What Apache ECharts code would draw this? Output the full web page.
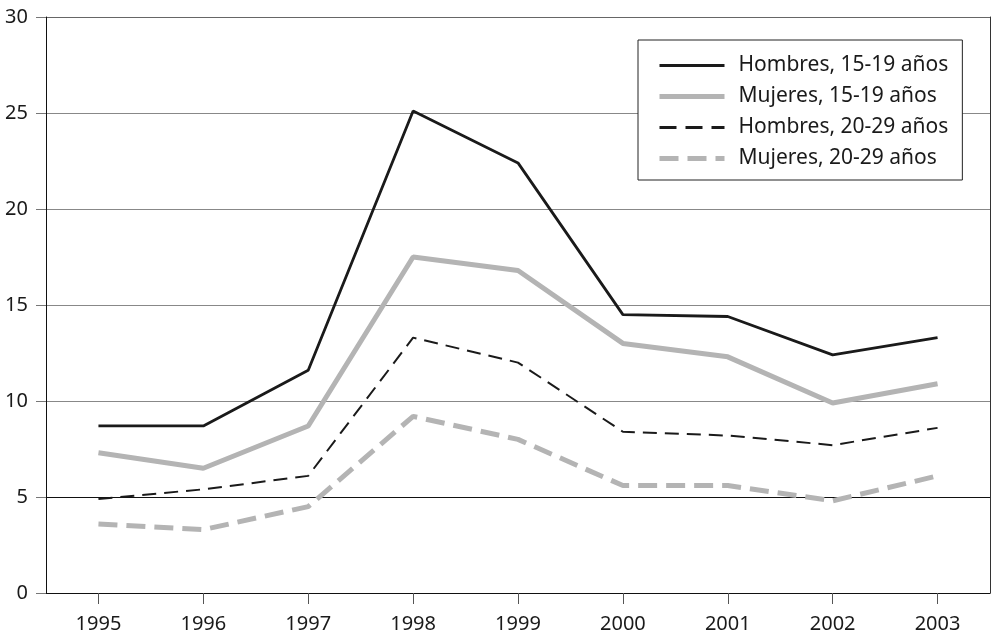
<!DOCTYPE html>
<html>
<head>
<meta charset="utf-8">
<script src="https://cdn.jsdelivr.net/npm/echarts@6/dist/echarts.min.js"></script>
<style>
  html, body { margin: 0; padding: 0; background: #fff; }
  #chart { width: 992px; height: 636px; }
</style>
</head>
<body>
<div id="chart"></div>
<script>
// años y series
const years = ['1995', '1996', '1997', '1998', '1999', '2000', '2001', '2002', '2003']
const hombres1519 = [8.7, 8.7, 11.6, 25.1, 22.4, 14.5, 14.4, 12.4, 13.3]
const mujeres1519 = [7.3, 6.5, 8.7, 17.5, 16.8, 13.0, 12.3, 9.9, 10.9]
const hombres2029 = [4.9, 5.4, 6.1, 13.3, 12.0, 8.4, 8.2, 7.7, 8.6]
const mujeres2029 = [3.6, 3.3, 4.5, 9.2, 8.0, 5.6, 5.6, 4.8, 6.1]
const seriesNames = ['Hombres, 15-19 años', 'Mujeres, 15-19 años', 'Hombres, 20-29 años', 'Mujeres, 20-29 años']

const font = 'Noto Sans'
const black = '#1a1a1a'
const gray = '#b4b4b4'

// estilo de cada serie: color, grosor, trazo
const styles = [
  { color: black, width: 2.8, type: 'solid' },
  { color: gray, width: 5, type: 'solid' },
  { color: black, width: 2, type: [14, 8] },
  { color: gray, width: 5, type: [19, 9] },
]
const seriesData = [hombres1519, mujeres1519, hombres2029, mujeres2029]

const chart = echarts.init(document.getElementById('chart'))

chart.setOption({
  animation: false,
  grid: { left: 46, right: 2, top: 17, bottom: 43 },
  legend: {
    orient: 'vertical',
    left: 638,
    top: 40,
    padding: [15, 14, 11, 19],
    itemWidth: 65,
    itemHeight: 20,
    itemGap: 10,
    itemStyle: { opacity: 0 },
    borderColor: '#222',
    borderWidth: 1,
    backgroundColor: '#fff',
    textStyle: { fontFamily: font, fontSize: 21, color: black, padding: [0, 0, 0, 9] },
    data: seriesNames.map((name, i) => ({
      name,
      lineStyle: {
        color: styles[i].color,
        width: i === 2 ? 3 : styles[i].width,
        type: i === 2 ? [17, 9] : styles[i].type,
        cap: 'butt',
      },
    })),
  },
  xAxis: {
    type: 'category',
    data: years,
    boundaryGap: true,
    axisLine: { show: true, lineStyle: { color: '#111', width: 1 } },
    axisTick: { show: true, alignWithLabel: true, length: 11, lineStyle: { color: '#555' } },
    axisLabel: { fontFamily: font, fontSize: 20, color: black, margin: 21 },
    splitLine: { show: false },
  },
  yAxis: [
    {
      type: 'value',
      min: 0,
      max: 30,
      interval: 5,
      axisLine: { show: true, lineStyle: { color: '#111', width: 1 } },
      axisTick: { show: true, length: 10, lineStyle: { color: '#777' } },
      axisLabel: { fontFamily: font, fontSize: 20, color: black, margin: 18 },
      splitLine: { show: true, lineStyle: { color: ['#111', '#111', '#888', '#888', '#888', '#888', '#666'], width: 1 } },
    },
    {
      type: 'value',
      min: 0,
      max: 30,
      interval: 5,
      position: 'right',
      axisLine: { show: true, lineStyle: { color: '#333', width: 1 } },
      axisTick: { show: false },
      axisLabel: { show: false },
      splitLine: { show: false },
    },
  ],
  series: seriesNames.map((name, i) => ({
    name,
    type: 'line',
    data: seriesData[i],
    symbol: 'none',
    lineStyle: { color: styles[i].color, width: styles[i].width, type: styles[i].type, cap: 'butt' },
    itemStyle: { color: styles[i].color },
  })),
})
</script>
</body>
</html>
